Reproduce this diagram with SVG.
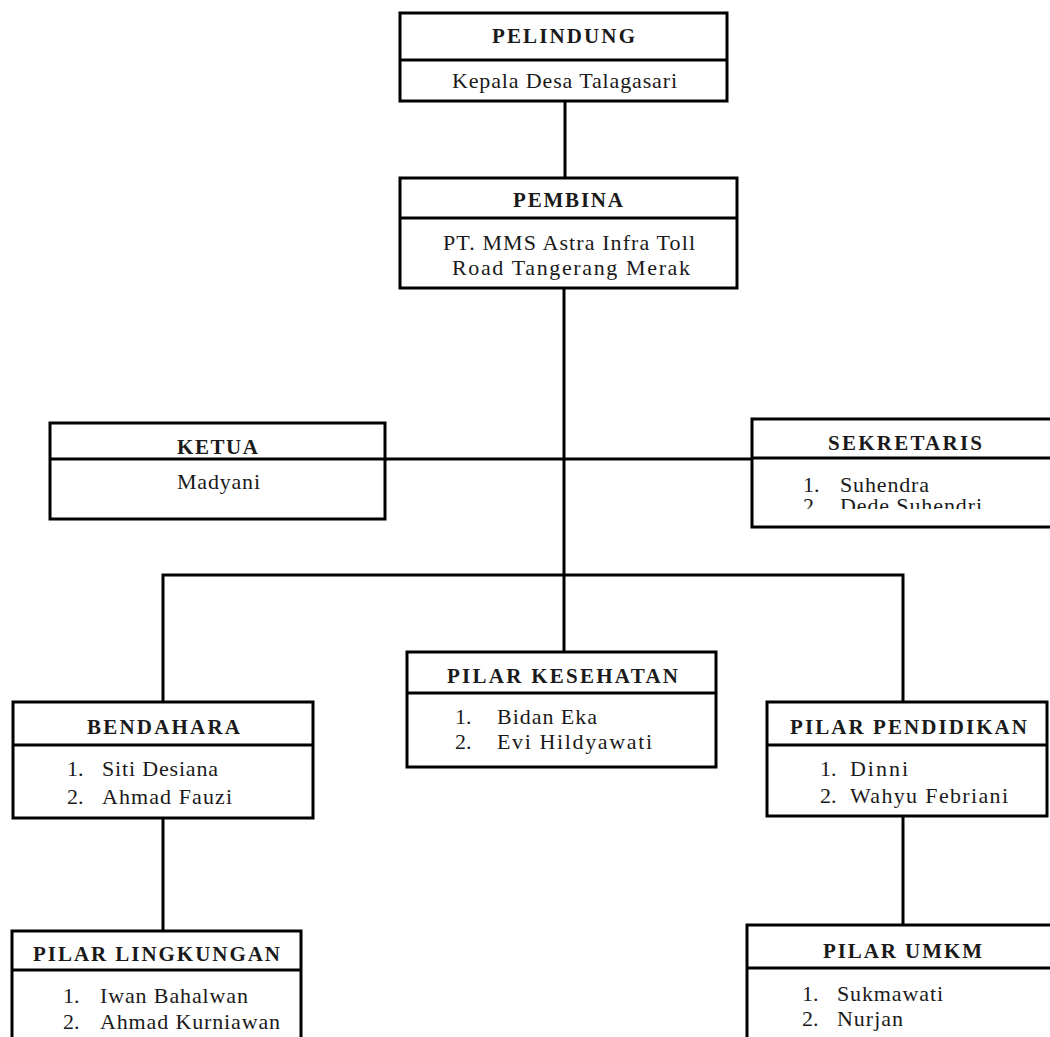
<svg xmlns="http://www.w3.org/2000/svg" width="1050" height="1037" viewBox="0 0 1050 1037">
<style>
.box{fill:#fff;stroke:#000;stroke-width:3}
.div{stroke:#000;stroke-width:3}
.con{stroke:#000;stroke-width:3;fill:none}
.t{font-family:"Liberation Serif","Times New Roman",serif;font-size:21px;font-weight:bold;fill:#1a1a1a}
.b{font-family:"Liberation Serif","Times New Roman",serif;font-size:22px;fill:#1a1a1a}
</style>
<defs>
<clipPath id="clipSek"><rect x="752" y="460" width="300" height="49"/></clipPath>
</defs>
<rect width="1050" height="1037" fill="#fff"/>
<g id="connectors">
<line class="con" x1="565" y1="101" x2="565" y2="178"/>
<line class="con" x1="564" y1="288" x2="564" y2="652"/>
<line class="con" x1="385" y1="459" x2="752" y2="459"/>
<polyline class="con" points="163,702 163,575 903,575 903,702"/>
<line class="con" x1="163" y1="818" x2="163" y2="931"/>
<line class="con" x1="903" y1="816" x2="903" y2="925"/>
</g>
<g id="pelindung">
<rect class="box" x="400" y="13" width="327" height="88"/>
<line class="div" x1="400" y1="60" x2="727" y2="60"/>
<text class="t" x="492" y="43" textLength="143" lengthAdjust="spacing">PELINDUNG</text>
<text class="b" x="452" y="88" textLength="225" lengthAdjust="spacing">Kepala Desa Talagasari</text>
</g>
<g id="pembina">
<rect class="box" x="400" y="178" width="337" height="110"/>
<line class="div" x1="400" y1="218" x2="737" y2="218"/>
<text class="t" x="513" y="207" textLength="110" lengthAdjust="spacing">PEMBINA</text>
<text class="b" x="443" y="250" textLength="252" lengthAdjust="spacing">PT. MMS Astra Infra Toll</text>
<text class="b" x="452" y="275" textLength="238" lengthAdjust="spacing">Road Tangerang Merak</text>
</g>
<g id="ketua">
<rect class="box" x="50" y="423" width="335" height="96"/>
<line class="div" x1="50" y1="459" x2="385" y2="459"/>
<text class="t" x="177" y="454" textLength="81" lengthAdjust="spacing">KETUA</text>
<text class="b" x="177" y="489" textLength="83" lengthAdjust="spacing">Madyani</text>
</g>
<g id="sekretaris">
<rect class="box" x="752" y="419" width="310" height="108"/>
<line class="div" x1="752" y1="458" x2="1062" y2="458"/>
<text class="t" x="828" y="450" textLength="154" lengthAdjust="spacing">SEKRETARIS</text>
<text class="b" x="803" y="492">1.</text>
<text class="b" x="840" y="492" textLength="89" lengthAdjust="spacing">Suhendra</text>
<g clip-path="url(#clipSek)">
<text class="b" x="803" y="513">2.</text>
<text class="b" x="840" y="513" textLength="142" lengthAdjust="spacing">Dede Suhendri</text>
</g>
</g>
<g id="bendahara">
<rect class="box" x="13" y="702" width="300" height="116"/>
<line class="div" x1="13" y1="745" x2="313" y2="745"/>
<text class="t" x="87" y="734" textLength="153" lengthAdjust="spacing">BENDAHARA</text>
<text class="b" x="67" y="776">1.</text>
<text class="b" x="102" y="776" textLength="116" lengthAdjust="spacing">Siti Desiana</text>
<text class="b" x="67" y="804">2.</text>
<text class="b" x="102" y="804" textLength="130" lengthAdjust="spacing">Ahmad Fauzi</text>
</g>
<g id="pilar-kesehatan">
<rect class="box" x="407" y="652" width="309" height="115"/>
<line class="div" x1="407" y1="693" x2="716" y2="693"/>
<text class="t" x="447" y="683" textLength="231" lengthAdjust="spacing">PILAR KESEHATAN</text>
<text class="b" x="455" y="724">1.</text>
<text class="b" x="497" y="724" textLength="100" lengthAdjust="spacing">Bidan Eka</text>
<text class="b" x="455" y="749">2.</text>
<text class="b" x="497" y="749" textLength="155" lengthAdjust="spacing">Evi Hildyawati</text>
</g>
<g id="pilar-pendidikan">
<rect class="box" x="767" y="702" width="280" height="114"/>
<line class="div" x1="767" y1="745" x2="1047" y2="745"/>
<text class="t" x="790" y="734" textLength="237" lengthAdjust="spacing">PILAR PENDIDIKAN</text>
<text class="b" x="820" y="776">1.</text>
<text class="b" x="850" y="776" textLength="58" lengthAdjust="spacing">Dinni</text>
<text class="b" x="820" y="803">2.</text>
<text class="b" x="850" y="803" textLength="158" lengthAdjust="spacing">Wahyu Febriani</text>
</g>
<g id="pilar-lingkungan">
<rect class="box" x="12" y="931" width="289" height="130"/>
<line class="div" x1="12" y1="970" x2="301" y2="970"/>
<text class="t" x="33" y="961" textLength="247" lengthAdjust="spacing">PILAR LINGKUNGAN</text>
<text class="b" x="63" y="1003">1.</text>
<text class="b" x="100" y="1003" textLength="148" lengthAdjust="spacing">Iwan Bahalwan</text>
<text class="b" x="63" y="1029">2.</text>
<text class="b" x="100" y="1029" textLength="180" lengthAdjust="spacing">Ahmad Kurniawan</text>
</g>
<g id="pilar-umkm">
<rect class="box" x="747" y="925" width="315" height="136"/>
<line class="div" x1="747" y1="968" x2="1062" y2="968"/>
<text class="t" x="823" y="958" textLength="159" lengthAdjust="spacing">PILAR UMKM</text>
<text class="b" x="802" y="1001">1.</text>
<text class="b" x="837" y="1001" textLength="106" lengthAdjust="spacing">Sukmawati</text>
<text class="b" x="802" y="1026">2.</text>
<text class="b" x="837" y="1026" textLength="66" lengthAdjust="spacing">Nurjan</text>
</g>
</svg>
